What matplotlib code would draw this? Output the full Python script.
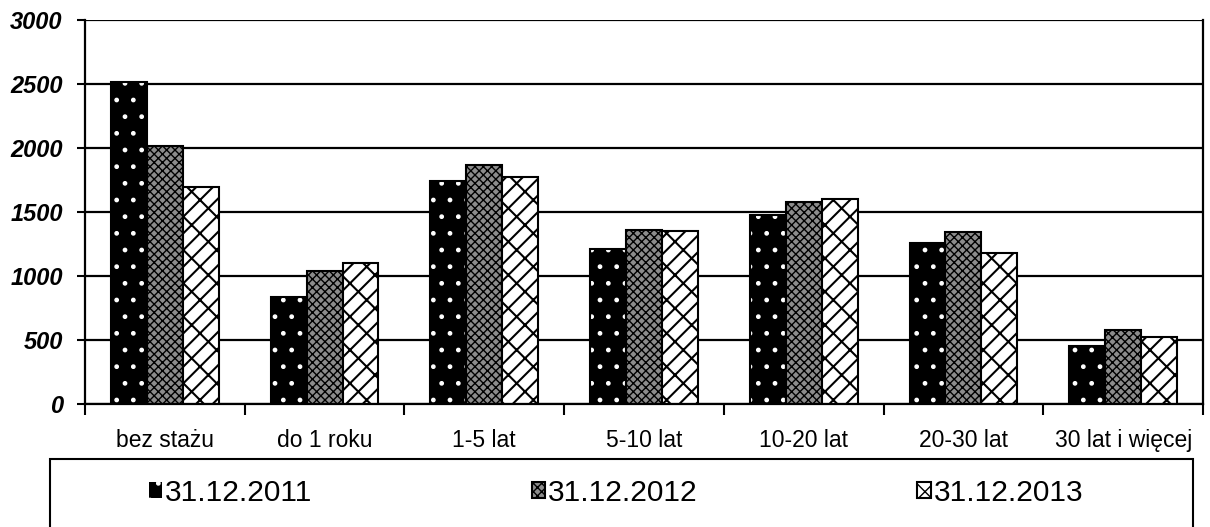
import matplotlib
matplotlib.use("Agg")
import matplotlib.pyplot as plt
import numpy as np
from matplotlib.patches import Rectangle

categories = ["bez stażu", "do 1 roku", "1-5 lat", "5-10 lat", "10-20 lat", "20-30 lat", "30 lat i więcej"]
series_labels = ["31.12.2011", "31.12.2012", "31.12.2013"]
v2011 = [2515, 835, 1742, 1208, 1480, 1258, 452]
v2012 = [2015, 1040, 1868, 1362, 1578, 1340, 580]
v2013 = [1693, 1105, 1777, 1355, 1600, 1183, 527]
yticks = [0, 500, 1000, 1500, 2000, 2500, 3000]

plt.rcParams['font.family'] = ['Liberation Sans', 'DejaVu Sans']

W, H = 1210, 527
fig = plt.figure(figsize=(W / 100, H / 100), dpi=100)
ax = fig.add_axes([85 / W, 1 - 404 / H, 1118 / W, 384 / H])

x = np.arange(len(categories))
bw = 0.225

def set_hlw(container, lw):
    for p in container:
        if hasattr(p, "set_hatch_linewidth"):
            p.set_hatch_linewidth(lw)

ax.set_axisbelow(True)
ax.yaxis.grid(True, color='black', linewidth=1.6)

with plt.rc_context({'hatch.linewidth': 1.0}):
    b1 = ax.bar(x - bw, v2011, bw, color='black', edgecolor='white', hatch='.', linewidth=0, zorder=2)
    set_hlw(b1, 1.0)
ax.bar(x - bw, v2011, bw, fill=False, edgecolor='black', linewidth=1.5, zorder=3)
with plt.rc_context({'hatch.linewidth': 1.0}):
    b2 = ax.bar(x, v2012, bw, color='#8c8c8c', edgecolor='black', hatch='xxxx', linewidth=1.5, zorder=2)
    set_hlw(b2, 1.0)
with plt.rc_context({'hatch.linewidth': 1.5}):
    b3 = ax.bar(x + bw, v2013, bw, color='white', edgecolor='black', hatch='/x', linewidth=1.5, zorder=2)
    set_hlw(b3, 1.5)

ax.set_xlim(-0.5, len(categories) - 0.5)
ax.set_ylim(0, 3000)
ax.set_yticks(yticks)
ax.set_yticklabels([str(t) for t in yticks], fontsize=17, fontweight='bold', fontstyle='italic')
ax.tick_params(axis='y', length=6, width=1.5, pad=10, direction='out')

ax.set_xticks(x)
ax.set_xticklabels(categories, fontsize=16.5)
ax.tick_params(axis='x', which='major', length=0, pad=18)
ax.set_xticks(np.arange(-0.5, len(categories)), minor=True)
ax.tick_params(axis='x', which='minor', length=8, width=1.5, direction='out')

for s in ['left', 'right', 'bottom']:
    ax.spines[s].set_linewidth(1.6)
    ax.spines[s].set_color('black')
ax.spines['top'].set_visible(False)

fig.patches.append(Rectangle((50 / W, -0.2), (1193 - 50) / W, 0.2 + 1 - 459 / H,
                             transform=fig.transFigure, fill=False, edgecolor='black', linewidth=1.5))
fig.legend([b1, b2, b3], series_labels, loc='center', bbox_to_anchor=(616 / W, 1 - 493 / H),
           ncol=3, frameon=False, fontsize=21.5, handlelength=0.45, handleheight=0.45,
           handletextpad=0.1, columnspacing=7.35, borderpad=0)

fig.savefig("out.png", dpi=100)
